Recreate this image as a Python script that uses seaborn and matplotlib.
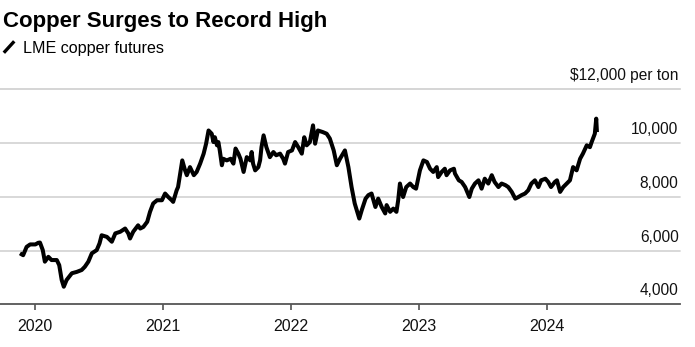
import matplotlib
matplotlib.use("Agg")
import matplotlib.pyplot as plt
from matplotlib.lines import Line2D
import seaborn as sns
import pandas as pd

# LME copper futures, USD per metric ton
dates = [
    "2019-11-19", "2019-11-28", "2019-12-08", "2019-12-18", "2020-01-02",
    "2020-01-10", "2020-01-15", "2020-01-23", "2020-01-29", "2020-02-08",
    "2020-02-17", "2020-03-03", "2020-03-10", "2020-03-17", "2020-03-23",
    "2020-03-31", "2020-04-15", "2020-04-29", "2020-05-13", "2020-05-22",
    "2020-06-01", "2020-06-11", "2020-06-25", "2020-07-03", "2020-07-09",
    "2020-07-24", "2020-08-07", "2020-08-17", "2020-08-31", "2020-09-14",
    "2020-09-23", "2020-09-28", "2020-10-07", "2020-10-21", "2020-10-27",
    "2020-11-05", "2020-11-16", "2020-11-24", "2020-12-03", "2020-12-14",
    "2020-12-28", "2021-01-06", "2021-01-15", "2021-01-25", "2021-01-29",
    "2021-02-08", "2021-02-12", "2021-02-24", "2021-03-04", "2021-03-09",
    "2021-03-18", "2021-03-29", "2021-04-06", "2021-04-16", "2021-04-26",
    "2021-05-03", "2021-05-10", "2021-05-19", "2021-05-24", "2021-05-28",
    "2021-06-03", "2021-06-07", "2021-06-11", "2021-06-17", "2021-06-21",
    "2021-07-01", "2021-07-12", "2021-07-20", "2021-07-26", "2021-08-03",
    "2021-08-09", "2021-08-18", "2021-08-27", "2021-09-06", "2021-09-10",
    "2021-09-14", "2021-09-20", "2021-09-29", "2021-10-04", "2021-10-08",
    "2021-10-14", "2021-10-22", "2021-11-01", "2021-11-11", "2021-11-19",
    "2021-11-30", "2021-12-09", "2021-12-14", "2021-12-23", "2022-01-03",
    "2022-01-12", "2022-01-21", "2022-01-31", "2022-02-07", "2022-02-14",
    "2022-02-23", "2022-03-04", "2022-03-10", "2022-03-18", "2022-04-01",
    "2022-04-12", "2022-04-21", "2022-05-02", "2022-05-11", "2022-05-20",
    "2022-06-03", "2022-06-13", "2022-06-22", "2022-07-01", "2022-07-14",
    "2022-07-21", "2022-08-01", "2022-08-09", "2022-08-18", "2022-08-29",
    "2022-09-06", "2022-09-16", "2022-09-26", "2022-09-30", "2022-10-10",
    "2022-10-19", "2022-10-28", "2022-11-02", "2022-11-07", "2022-11-16",
    "2022-11-25", "2022-12-06", "2022-12-15", "2022-12-23", "2023-01-03",
    "2023-01-13", "2023-01-23", "2023-02-01", "2023-02-10", "2023-02-20",
    "2023-02-24", "2023-03-06", "2023-03-15", "2023-03-20", "2023-03-30",
    "2023-04-10", "2023-04-13", "2023-04-24", "2023-05-02", "2023-05-12",
    "2023-05-24", "2023-05-31", "2023-06-09", "2023-06-19", "2023-06-28",
    "2023-07-07", "2023-07-17", "2023-07-27", "2023-08-04", "2023-08-15",
    "2023-08-24", "2023-09-04", "2023-09-12", "2023-09-22", "2023-10-02",
    "2023-10-11", "2023-10-20", "2023-10-30", "2023-11-08", "2023-11-17",
    "2023-11-27", "2023-12-07", "2023-12-15", "2023-12-27", "2024-01-04",
    "2024-01-12", "2024-01-23", "2024-01-29", "2024-02-07", "2024-02-16",
    "2024-02-26", "2024-03-06", "2024-03-15", "2024-03-25", "2024-04-04",
    "2024-04-12", "2024-04-23", "2024-05-02", "2024-05-07", "2024-05-16",
    "2024-05-20", "2024-05-22",
]
prices = [
    5900, 5830, 6140, 6230, 6230, 6290, 6300, 6020, 5590, 5770,
    5650, 5650, 5460, 4910, 4660, 4910, 5160, 5210, 5280, 5400,
    5590, 5900, 6020, 6270, 6570, 6510, 6330, 6640, 6700, 6820,
    6640, 6450, 6700, 6940, 6820, 6880, 7070, 7440, 7750, 7870,
    7870, 8120, 7990, 7870, 7810, 8240, 8360, 9350, 8980, 8800,
    9100, 8800, 8920, 9230, 9600, 9970, 10460, 10340, 10030, 10210,
    9910, 10030, 9720, 9170, 9410, 9350, 9410, 9230, 9790, 9600,
    9410, 8920, 9470, 9350, 9660, 9230, 8980, 9100, 9350, 9840,
    10280, 9840, 9470, 9660, 9540, 9600, 9410, 9230, 9660, 9720,
    10030, 9840, 9600, 10210, 9910, 10030, 10650, 9970, 10460, 10400,
    10340, 10160, 9720, 9170, 9410, 9720, 9100, 8360, 7750, 7190,
    7500, 7930, 8060, 8120, 7620, 7930, 7620, 7380, 7690, 7440,
    7560, 7440, 7870, 8490, 7990, 8360, 8490, 8360, 8300, 8980,
    9350, 9290, 9040, 8920, 9100, 8730, 8920, 9040, 8800, 8980,
    9040, 8860, 8610, 8550, 8360, 7990, 8300, 8490, 8610, 8300,
    8670, 8490, 8800, 8550, 8360, 8490, 8430, 8360, 8180, 7930,
    7990, 8060, 8120, 8240, 8490, 8610, 8360, 8610, 8670, 8550,
    8360, 8550, 8610, 8180, 8360, 8490, 8610, 9100, 8980, 9410,
    9600, 9910, 9840, 10030, 10340, 10900, 10400,
]

year_ticks = ["2020", "2021", "2022", "2023", "2024"]
value_ticks = [4000, 6000, 8000, 10000, 12000]
value_labels = ["4,000", "6,000", "8,000", "10,000", "$12,000 per ton"]

title = "Copper Surges to Record High"
series_name = "LME copper futures"

df = pd.DataFrame({"date": pd.to_datetime(dates), "price": prices})

sns.set_theme(style="white")
plt.rcParams["font.family"] = ["Liberation Sans", "DejaVu Sans"]

fig = plt.figure(figsize=(6.95, 3.47), dpi=100)
ax = fig.add_axes([0.0, 0.1225, 680 / 695, 0.621])

sns.lineplot(data=df, x="date", y="price", ax=ax, color="black",
             linewidth=2.9, solid_joinstyle="round", solid_capstyle="butt")

ax.set_xlim(pd.Timestamp("2019-09-23"), pd.Timestamp("2025-01-14"))
ax.set_ylim(value_ticks[0], value_ticks[-1])

# horizontal grid on the value ticks, drawn under the line
ax.set_yticks(value_ticks[1:])
ax.set_yticklabels([])
ax.tick_params(axis="y", length=0)
ax.yaxis.grid(True, color="#d6d6d6", linewidth=1.3)
for gl in ax.get_ygridlines():
    gl.set_clip_on(False)
ax.axhline(value_ticks[-1], color="#d6d6d6", linewidth=1.3, clip_on=False, zorder=0)
ax.set_axisbelow(True)

# value labels sit above their gridline at the right edge
for v, lab in zip(value_ticks, value_labels):
    ax.annotate(lab, xy=(1.0, v), xycoords=("axes fraction", "data"),
                xytext=(-1, 6.5), textcoords="offset points",
                ha="right", va="baseline", fontsize=11.2, color="#111111")

# year ticks
ax.set_xticks(pd.to_datetime([f"{y}-01-01" for y in year_ticks]))
ax.set_xticklabels(year_ticks, fontsize=11.5, color="#111111")
ax.tick_params(axis="x", direction="out", length=4.5, width=1.1,
               color="#444444", pad=6, bottom=True)

for side in ("top", "right", "left"):
    ax.spines[side].set_visible(False)
ax.spines["bottom"].set_color("#555555")
ax.spines["bottom"].set_linewidth(1.3)

ax.set_xlabel("")
ax.set_ylabel("")
if ax.get_legend() is not None:
    ax.get_legend().remove()

# headline and series key
fig.text(0.004, 0.923, title, fontsize=16, fontweight="bold",
         ha="left", va="baseline", color="black")
fig.lines.append(Line2D([0.0055, 0.0205], [0.848, 0.881], transform=fig.transFigure,
                        color="black", linewidth=2.4, solid_capstyle="butt"))
fig.text(0.033, 0.846, series_name, fontsize=11.6, ha="left", va="baseline",
         color="black")

fig.savefig("out.png", dpi=100)
